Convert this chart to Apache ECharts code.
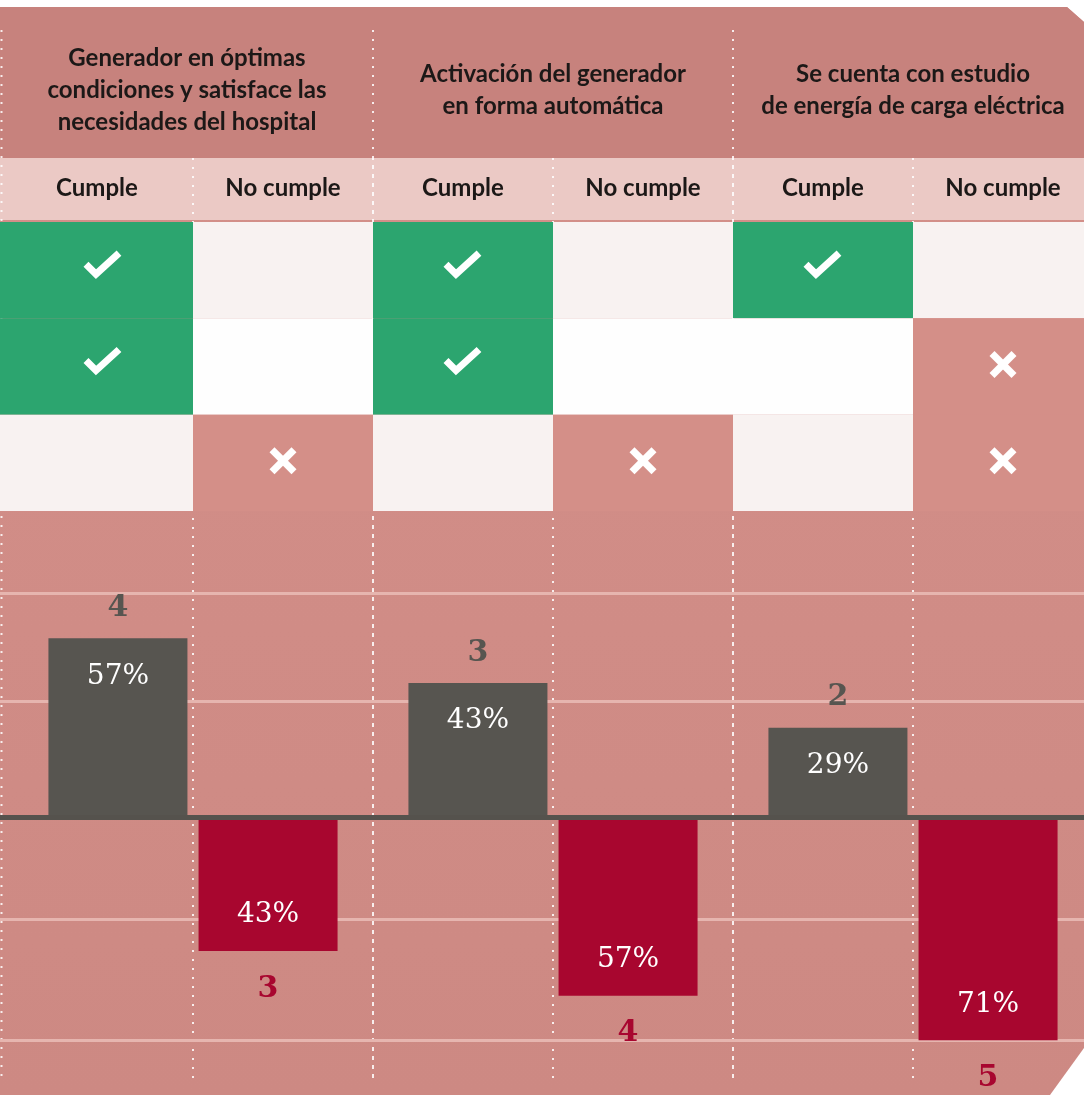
<!DOCTYPE html>
<html lang="es">
<head>
<meta charset="utf-8">
<title>Generador eléctrico: cumplimiento</title>
<script src="https://cdn.jsdelivr.net/npm/echarts@6/dist/echarts.min.js"></script>
<style>
  html, body { margin: 0; padding: 0; background: #ffffff; }
  #chart { width: 1084px; height: 1095px; }
</style>
</head>
<body>
<div id="chart"></div>
<script>
// ---- data ----
const groupTitles = [
  'Generador en óptimas\ncondiciones y satisface las\nnecesidades del hospital',
  'Activación del generador\nen forma automática',
  'Se cuenta con estudio\nde energía de carga eléctrica'
];
const statusColumns = ['Cumple', 'No cumple', 'Cumple', 'No cumple', 'Cumple', 'No cumple'];
const checkRows = ['1', '2', '3'];
// one entry per column, top to bottom: 'ok' = check, 'no' = cross, '' = empty
const checkMarks = [
  ['ok', 'ok', ''],
  ['', '', 'no'],
  ['ok', 'ok', ''],
  ['', '', 'no'],
  ['ok', '', ''],
  ['', 'no', 'no']
];
const cumpleCount = [4, 3, 2];
const noCumpleCount = [3, 4, 5];
const cumplePct = [57, 43, 29];
const noCumplePct = [43, 57, 71];
const guideValues = [5, 2.6, -2.3, -5];

// ---- styles ----
const GREEN = '#2ca56f';
const GRAY = '#575550';
const RED = '#a8062f';
const PANEL = '#d48f88';
const INK = '#1c1817';
const TITLE_FONT = 'Lato';
const NUM_FONT = 'DejaVu Serif';

const dotStyle = { color: 'rgba(255,255,255,0.85)', width: 2, type: [2, 7] };
const dotted = { show: true, interval: 0, showMinLine: false, showMaxLine: false, lineStyle: dotStyle };

const kindCode = { '': 0, ok: 1, no: 2 };
const cellData = [];
checkMarks.forEach((col, c) => col.forEach((k, r) => cellData.push([c, r, kindCode[k]])));

// the first column is wider (it runs to the page edge), so its texts sit a little further left
const headText = { fontFamily: TITLE_FONT, fontWeight: 'bold', fontSize: 24, color: INK };
const shiftFirst = (v, i) => i === 0 ? v.split('\n').map((s) => '{f|' + s + '}').join('\n') : v;

const gridBase = { left: 13, width: 1080, outerBoundsMode: 'none', containLabel: false };

const option = {
  backgroundColor: '#ffffff',
  animation: false,
  graphic: [
    {
      type: 'polygon', z: -3, silent: true,
      shape: { points: [[0, 7], [1067, 7], [1084, 22], [1084, 1048], [1050, 1095], [0, 1095]] },
      style: { fill: { type: 'linear', x: 0, y: 0, x2: 0, y2: 1,
        colorStops: [{ offset: 0, color: '#d4908a' }, { offset: 1, color: '#cd8983' }] } }
    },
    {
      type: 'polygon', z: -2, silent: true,
      shape: { points: [[0, 7], [1067, 7], [1084, 22], [1084, 158], [0, 158]] },
      style: { fill: '#c7827d' }
    },
    {
      type: 'rect', z: -2, silent: true,
      shape: { x: 0, y: 158, width: 1084, height: 62 },
      style: { fill: '#ebc9c5' }
    },
    {
      type: 'line', z: -1, silent: true,
      shape: { x1: 1.5, y1: 30, x2: 1.5, y2: 1080 },
      style: { stroke: dotStyle.color, lineWidth: 2, lineDash: [2, 7] }
    }
  ],
  grid: [
    Object.assign({ top: 30, bottom: 15 }, gridBase),
    Object.assign({ top: 158, bottom: 15 }, gridBase),
    Object.assign({ top: 222, height: 289 }, gridBase),
    Object.assign({ top: 549, height: 536 }, gridBase)
  ],
  xAxis: [
    {
      gridIndex: 0, type: 'category', position: 'top', data: groupTitles,
      axisLine: { show: false }, axisTick: { show: false },
      axisLabel: Object.assign({ inside: true, margin: 60, interval: 0, verticalAlign: 'middle', align: 'center',
        lineHeight: 32, formatter: shiftFirst,
        rich: { f: Object.assign({ lineHeight: 32, padding: [0, 12, 0, 0] }, headText) } }, headText),
      splitLine: dotted
    },
    {
      gridIndex: 1, type: 'category', position: 'top', data: statusColumns,
      axisLine: { show: false }, axisTick: { show: false },
      axisLabel: Object.assign({ inside: true, margin: 30, interval: 0, verticalAlign: 'middle', align: 'center',
        formatter: shiftFirst,
        rich: { f: Object.assign({ padding: [0, 12, 0, 0] }, headText) } }, headText),
      splitLine: dotted
    },
    { gridIndex: 2, type: 'category', data: statusColumns, show: false },
    { gridIndex: 3, type: 'category', data: groupTitles, show: false }
  ],
  yAxis: [
    { gridIndex: 0, type: 'value', show: false },
    { gridIndex: 1, type: 'value', show: false },
    { gridIndex: 2, type: 'category', data: checkRows, inverse: true, show: false },
    { gridIndex: 3, type: 'value', min: -6, max: 6, show: false }
  ],
  series: [
    {
      type: 'custom', xAxisIndex: 2, yAxisIndex: 2, silent: true,
      data: cellData,
      renderItem: function (params, api) {
        const col = api.value(0), row = api.value(1), kind = api.value(2);
        const center = api.coord([col, row]);
        const size = api.size([1, 1]);
        let left = center[0] - size[0] / 2;
        let width = size[0];
        if (col === 0) { width += left; left = 0; }
        const top = center[1] - size[1] / 2;
        const fill = kind === 1 ? GREEN : kind === 2 ? PANEL : (row === 1 ? '#fefefe' : '#f8f2f1');
        const children = [{
          type: 'rect',
          shape: { x: left, y: top, width: width, height: size[1] },
          style: { fill: fill }
        }];
        const cx = center[0], cy = center[1];
        if (kind === 1) {
          const gy = cy - 5;
          children.push({
            type: 'polyline',
            shape: { points: [[cx - 17, gy - 1], [cx - 7, gy + 9], [cx + 16, gy - 12]] },
            style: { stroke: '#ffffff', lineWidth: 7, fill: null, lineJoin: 'miter' }
          });
        } else if (kind === 2) {
          const gy = cy - 2, d = 11;
          children.push({
            type: 'line', shape: { x1: cx - d, y1: gy - d, x2: cx + d, y2: gy + d },
            style: { stroke: '#ffffff', lineWidth: 7 }
          }, {
            type: 'line', shape: { x1: cx - d, y1: gy + d, x2: cx + d, y2: gy - d },
            style: { stroke: '#ffffff', lineWidth: 7 }
          });
        }
        return { type: 'group', children: children };
      }
    },
    {
      name: 'Cumple', type: 'bar', xAxisIndex: 3, yAxisIndex: 3, clip: false,
      data: cumpleCount,
      barWidth: 139, barGap: '8%',
      itemStyle: { color: GRAY },
      label: {
        show: true, position: 'top', distance: 0, verticalAlign: 'middle', align: 'center',
        formatter: (p) => '{n|' + p.value + '}\n{p|' + cumplePct[p.dataIndex] + '%}',
        rich: {
          n: { fontFamily: NUM_FONT, fontWeight: 'bold', fontSize: 30, color: GRAY, lineHeight: 76, align: 'center' },
          p: { fontFamily: NUM_FONT, fontSize: 28, color: '#ffffff', lineHeight: 60, align: 'center' }
        }
      },
      markLine: {
        silent: true, symbol: 'none', z: 1, label: { show: false },
        lineStyle: { color: '#e6b5af', width: 3, type: 'solid' },
        data: guideValues.map((v) => [{ yAxis: v, x: 0 }, { yAxis: v, x: '100%' }])
      }
    },
    {
      name: 'No cumple', type: 'bar', xAxisIndex: 3, yAxisIndex: 3, clip: false,
      data: noCumpleCount.map((v) => -v),
      barWidth: 139, barGap: '8%',
      itemStyle: { color: RED },
      label: {
        show: true, position: 'bottom', distance: 0, verticalAlign: 'middle', align: 'center',
        formatter: (p) => '{p|' + noCumplePct[p.dataIndex] + '%}\n{n|' + Math.abs(p.value) + '}',
        rich: {
          p: { fontFamily: NUM_FONT, fontSize: 28, color: '#ffffff', lineHeight: 76, align: 'center' },
          n: { fontFamily: NUM_FONT, fontWeight: 'bold', fontSize: 30, color: RED, lineHeight: 72, align: 'center' }
        }
      },
      markLine: {
        silent: true, symbol: 'none', z: 6, label: { show: false },
        lineStyle: { color: '#55524d', width: 5, type: 'solid' },
        data: [[{ yAxis: 0, x: 0 }, { yAxis: 0, x: '100%' }]]
      }
    }
  ]
};

const chart = echarts.init(document.getElementById('chart'), null, { renderer: 'canvas' });
chart.setOption(option);
</script>
</body>
</html>
